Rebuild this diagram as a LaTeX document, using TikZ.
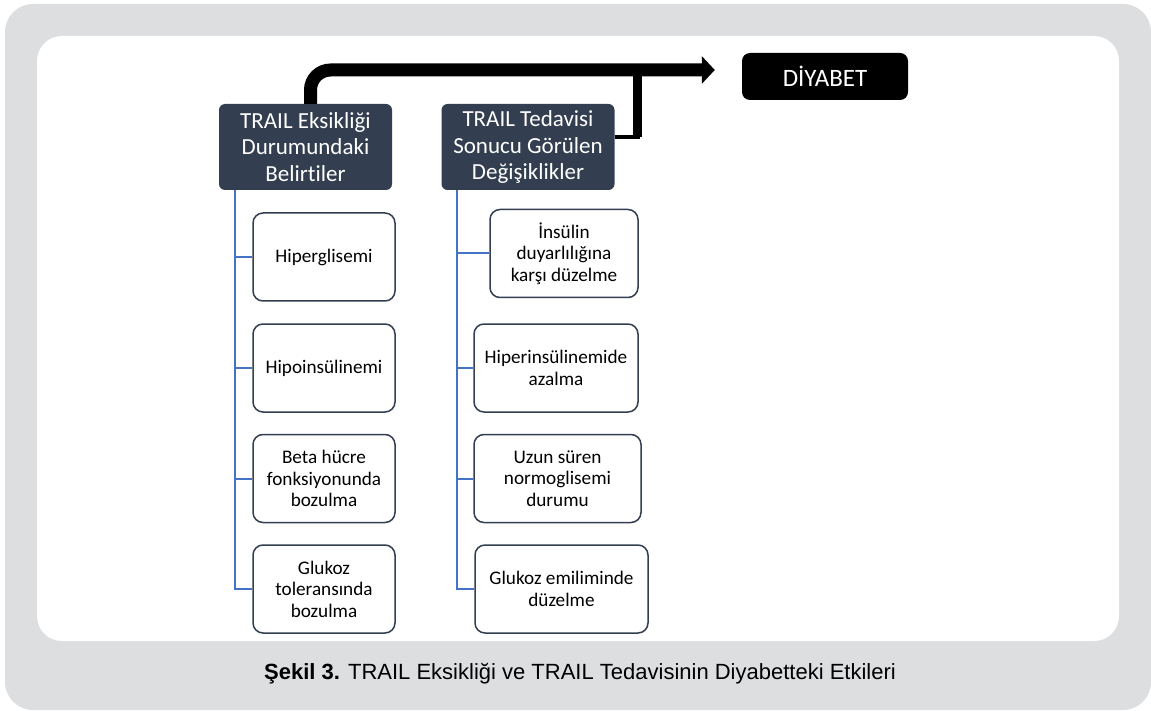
\documentclass[tikz,border=0pt]{standalone}
\usepackage{fontspec}
\setmainfont{Carlito}[Ligatures=NoCommon]
\newfontfamily\capfont{Liberation Sans}
\usepackage{tikz}
\usetikzlibrary{calc}
\usetikzlibrary{arrows.meta}
\definecolor{panelgray}{RGB}{221,222,224}
\definecolor{headslate}{RGB}{51,63,80}
\definecolor{branchblue}{RGB}{68,114,196}
\newcommand{\subbox}[5]{\node[subbox, minimum width=#4] (#1) at ( #2 , #3 ) {#5};}

\begin{document}
\begin{tikzpicture}[x=1pt,y=-1pt,
    headbox/.style={fill=headslate, rounded corners=6pt, minimum width=173pt, minimum height=86pt,
        align=center, text=white, font=\fontsize{23}{26.5}\selectfont},
    dybox/.style={fill=black, rounded corners=8pt, minimum width=166pt, minimum height=47pt,
        text=white, font=\fontsize{25}{28}\selectfont},
    subbox/.style={draw=headslate, line width=1.5pt, fill=white, rounded corners=10pt,
        minimum height=88pt, align=center, font=\fontsize{19.2}{21.5}\selectfont},
    branch/.style={draw=branchblue, line width=2pt}]
        \useasboundingbox (0,0) rectangle (1151,711);
        %panel
        \fill[panelgray, rounded corners=28pt] (5,4) rectangle (1151,710);
        \fill[white, rounded corners=25pt] (37,36) rectangle (1119,641);

        %heads
        \node[headbox] (h1) at (305.5,147) {TRAIL Eksikliği\\Durumundaki\\Belirtiler};
        \node[headbox] (h2) at (528,147) {TRAIL Tedavisi\\Sonucu Görülen\\Değişiklikler};
        \node[dybox] (dy) at (825,76.5) {DİYABET};

        %left column
        \subbox{s1}{324}{257}{142pt}{Hiperglisemi}
        \subbox{s2}{324}{368}{142pt}{Hipoinsülinemi}
        \subbox{s3}{324}{478.5}{142pt}{Beta hücre\\fonksiyonunda\\bozulma}
        \subbox{s4}{324}{589}{142pt}{Glukoz\\toleransında\\bozulma}

        %right column
        \subbox{t1}{564}{253.5}{148pt}{İnsülin\\duyarlılığına\\karşı düzelme}
        \subbox{t2}{556}{368}{164pt}{Hiperinsülinemide\\azalma}
        \subbox{t3}{557.5}{478.5}{167pt}{Uzun süren\\normoglisemi\\durumu}
        \subbox{t4}{561.5}{589}{173pt}{Glukoz emiliminde\\düzelme}

        %branches
        \foreach \s in {s1,s2,s3,s4}
            \draw[branch] ([xshift=16pt]h1.south west) |- (\s.west);
        \foreach \t in {t1,t2,t3,t4}
            \draw[branch] ([xshift=16pt]h2.south west) |- (\t.west);

        %arrow to diabetes
        \draw[line width=13pt, rounded corners=20pt, -{Triangle[length=13pt,width=27pt]}]
            ([xshift=5pt]h1.north) |- ([xshift=-27pt,yshift=6.5pt]dy.west) coordinate (tip);
        \coordinate (jn) at (637.5,70);
        \coordinate (arm) at ([yshift=10pt]h2.east);
        \draw[line width=4.5pt] (arm) -| (jn);
        \draw[line width=8.5pt] (arm -| jn) -- (jn);

        %caption
        \node[font=\capfont\fontsize{22}{26}\selectfont] (cap) at (580,674)
            {\textbf{Şekil 3.} TRAIL Eksikliği ve TRAIL Tedavisinin Diyabetteki Etkileri};
\end{tikzpicture}
\end{document}
